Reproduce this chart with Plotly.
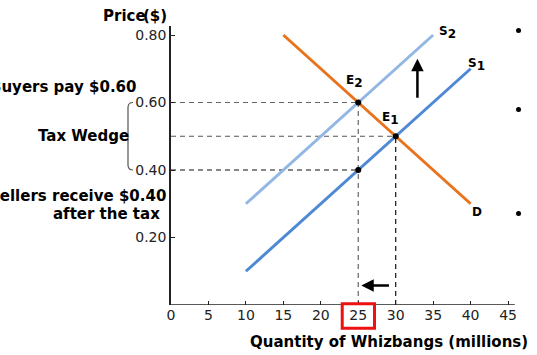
import plotly.graph_objects as go

# ---- data ----
demand_q = [15, 40]
demand_p = [0.80, 0.30]
s1_q = [10, 40]
s1_p = [0.10, 0.70]
s2_q = [10, 35]
s2_p = [0.30, 0.80]
eq_q = [25, 30, 25]
eq_p = [0.60, 0.50, 0.40]
x_ticks = [0, 5, 10, 15, 20, 25, 30, 35, 40, 45]
y_ticks = [0.20, 0.40, 0.60, 0.80]
y_ticktext = ["0.20", "0.40", "0.60", "0.80"]
side_dots_q = [46.4, 46.4, 46.4]
side_dots_p = [0.813, 0.579, 0.271]
x_axis_end = 45.9

W, H = 537, 355
SCALE_X = 7.49
L, T, B = 171, 26, 50
R = 14
pw, ph = W - L - R, H - T - B

def px(x):
    return (x - L) / pw

def py(y):
    return (H - B - y) / ph

FONT = "DejaVu Sans"
ORANGE = "#E8731C"
BLUE = "#4F88D3"
LBLUE = "#93B7E3"
AX = "#222222"

fig = go.Figure()

# dashed guide lines
def dline(xs, ys, color):
    fig.add_trace(go.Scatter(x=xs, y=ys, mode="lines",
                             line=dict(color=color, width=1.2, dash="5px,4px"),
                             hoverinfo="skip", showlegend=False))

dline([0, eq_q[0]], [eq_p[0], eq_p[0]], "#666666")
dline([0, eq_q[1]], [eq_p[1], eq_p[1]], "#555555")
dline([0, eq_q[2]], [eq_p[2], eq_p[2]], "#111111")
dline([eq_q[0], eq_q[0]], [0, eq_p[0]], "#666666")
dline([eq_q[1], eq_q[1]], [0, eq_p[1]], "#111111")

fig.add_trace(go.Scatter(x=s2_q, y=s2_p, mode="lines",
                         line=dict(color=LBLUE, width=3), showlegend=False))
fig.add_trace(go.Scatter(x=s1_q, y=s1_p, mode="lines",
                         line=dict(color=BLUE, width=3), showlegend=False))
fig.add_trace(go.Scatter(x=demand_q, y=demand_p, mode="lines",
                         line=dict(color=ORANGE, width=3), showlegend=False))
fig.add_trace(go.Scatter(x=eq_q, y=eq_p, mode="markers",
                         marker=dict(color="black", size=6), showlegend=False))
fig.add_trace(go.Scatter(x=side_dots_q, y=side_dots_p, mode="markers", cliponaxis=False,
                         marker=dict(color="black", size=5), showlegend=False))

bold15 = dict(family=FONT, size=15, color="black")

ann = []
def lab(letter, sub, x, y, size=12):
    text = "<b>" + letter + "</b>"
    if sub:
        text += "<sub><span style='font-size:%dpx'><b>%s</b></span></sub>" % (size, sub)
    ann.append(dict(text=text, x=x, y=y, xref="x", yref="y",
                    showarrow=False, font=dict(family=FONT, size=size, color="black"),
                    xanchor="center", yanchor="middle"))

lab("E", "2", 24.5, 0.662)
lab("E", "1", 29.3, 0.553)
lab("S", "2", 36.85, 0.808)
lab("S", "1", 40.8, 0.713)
lab("D", "", 40.8, 0.2764)

def ptext(text, xr, yc, anchor="right"):
    ann.append(dict(text="<b>" + text + "</b>", x=px(xr), y=py(yc), xref="paper", yref="paper",
                    showarrow=False, font=bold15, xanchor=anchor, yanchor="middle",
                    borderpad=0))

ptext("Price", 146.5, 16.5)
ptext("($)", 142, 16.5, anchor="left")
ptext("Buyers pay $0.60", 137, 87)
ptext("Tax Wedge", 129.5, 136)
ptext("Sellers receive $0.40", 167, 196)
ptext("after the tax", 160.5, 214)
ann.append(dict(text="<b>Quantity of Whizbangs (millions)</b>", x=px(388.5), y=py(342.5),
                xref="paper", yref="paper", showarrow=False, font=bold15,
                xanchor="center", yanchor="middle"))

# arrows
ann.append(dict(x=32.9, y=0.73, ax=32.9, ay=0.61, xref="x", yref="y", axref="x", ayref="y",
                showarrow=True, arrowhead=2, arrowsize=1, arrowwidth=2.5, arrowcolor="black", text=""))
ann.append(dict(x=25.4, y=0.058, ax=29.3, ay=0.058, xref="x", yref="y", axref="x", ayref="y",
                showarrow=True, arrowhead=2, arrowsize=1, arrowwidth=2.5, arrowcolor="black", text=""))

shapes = []
# x axis line (ends before the plot edge)
shapes.append(dict(type="line", xref="x", yref="y", x0=0, x1=x_axis_end, y0=0, y1=0,
                   line=dict(color=AX, width=1.5), layer="above"))
# bracket
bx, bx2 = px(128), px(133)
shapes.append(dict(type="path", xref="paper", yref="y",
                   path=f"M {bx2},0.6 Q {bx},0.6 {bx},0.585 L {bx},0.415 Q {bx},0.4 {bx2},0.4",
                   line=dict(color="#555555", width=1.2)))
# red box around 25
shapes.append(dict(type="rect", xref="x", yref="paper", x0=22.86, x1=27.17,
                   y0=py(328.3), y1=py(303.8), line=dict(color="#EE1111", width=3)))

fig.update_layout(
    width=W, height=H, margin=dict(l=L, r=R, t=T, b=B),
    plot_bgcolor="white", paper_bgcolor="white",
    annotations=ann, shapes=shapes, showlegend=False,
    xaxis=dict(range=[0, pw / SCALE_X], tickvals=x_ticks, showgrid=False, zeroline=False,
               showline=False, ticks="inside", ticklen=4, tickcolor=AX,
               tickfont=dict(family=FONT, size=14, color=AX)),
    yaxis=dict(range=[0, ph / 337.5], tickvals=y_ticks, ticktext=y_ticktext, showgrid=False,
               zeroline=False, showline=True, linecolor=AX, linewidth=1.5,
               ticks="inside", ticklen=4, tickcolor=AX,
               tickfont=dict(family=FONT, size=14, color=AX)),
)

fig.write_html("out.html", config={"displayModeBar": False},
               post_script="document.body.style.margin='0';")
